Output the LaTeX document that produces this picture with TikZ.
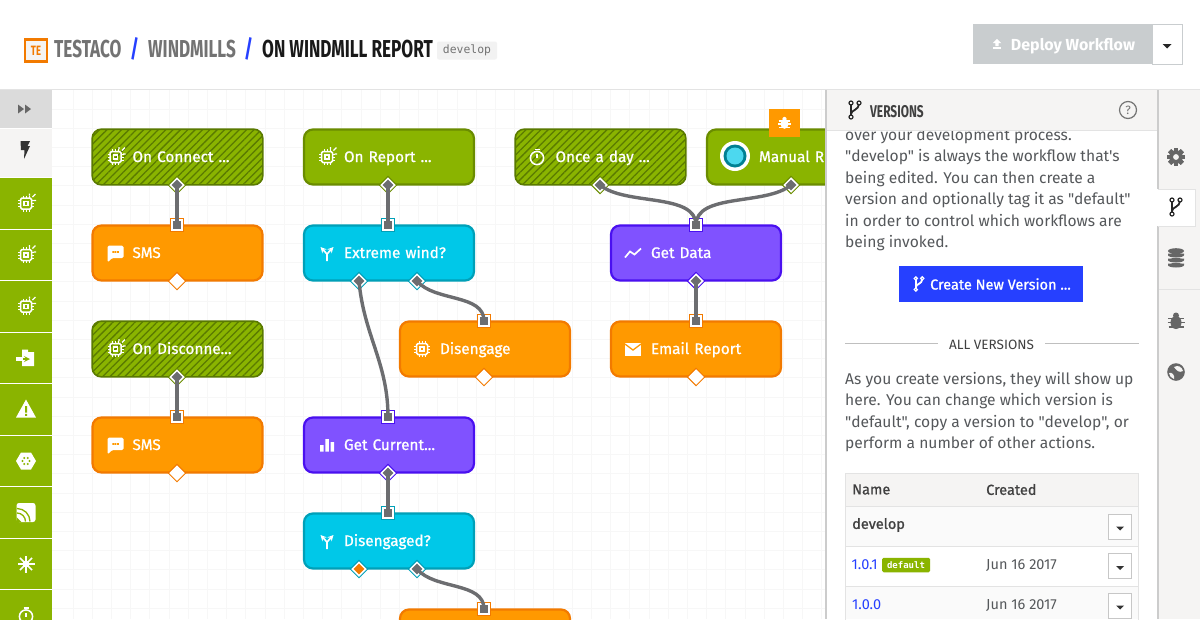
\documentclass[tikz,border=0pt]{standalone}
\usepackage{fontspec}
\usetikzlibrary{arrows,shapes,positioning,patterns.meta}
\setmainfont[Ligatures=TeXOff]{Fira Sans}
\newfontfamily\boxfont[FakeBold=0.9,Ligatures=TeXOff]{Fira Sans}
\newfontfamily\titlefont[FakeStretch=0.7]{Fira Sans}
\newfontfamily\codefont{DejaVu Sans Mono}
\definecolor{triggergreen}{HTML}{8AB400}
\definecolor{triggeredge}{HTML}{6A8C00}
\definecolor{hatchgreen}{HTML}{5A7A00}
\definecolor{actionorange}{HTML}{FF9900}
\definecolor{actionedge}{HTML}{F27A00}
\definecolor{logiccyan}{HTML}{00C8E8}
\definecolor{logicedge}{HTML}{00A0B8}
\definecolor{dataviolet}{HTML}{8052FF}
\definecolor{dataedge}{HTML}{4A10F0}
\definecolor{wiregray}{HTML}{6C6D70}
\definecolor{bodygray}{HTML}{55585B}
\definecolor{panelgray}{HTML}{F5F4F3}
\definecolor{rulegray}{HTML}{E3E3E3}
\definecolor{linkblue}{HTML}{2640FF}
\definecolor{deploygray}{HTML}{C9CDCF}
\tikzset{>=stealth,
  flowbox/.style={rectangle, rounded corners=9pt, line width=2.2pt, minimum width=170pt,
    minimum height=55pt, text width=160pt, inner xsep=5pt, inner ysep=0pt, align=left, text=white,
    text height=14pt, text depth=4pt,
    font=\boxfont\fontsize{15.3}{18}\selectfont, execute at begin node={\hspace*{35pt}}},
  triggerbox/.style={flowbox, draw=triggeredge, fill=triggergreen},
  hatchbox/.style={flowbox, draw=hatchgreen, line width=1.6pt, minimum width=170.6pt, minimum height=55.6pt,
    preaction={fill=triggergreen},
    pattern={Lines[angle=45,distance=5.2pt,line width=1.3pt]}, pattern color=hatchgreen},
  actionbox/.style={flowbox, draw=actionedge, fill=actionorange},
  logicbox/.style={flowbox, draw=logicedge, fill=logiccyan},
  databox/.style={flowbox, draw=dataedge, fill=dataviolet},
  inport/.style={rectangle, fill=#1, minimum size=14pt, inner sep=0pt,
    label={[rectangle, fill=wiregray, draw=white, line width=1.3pt, minimum size=10pt, inner sep=0pt]center:{}}},
  outport/.style args={#1 and #2}{diamond, fill=#1, minimum size=19pt, inner sep=0pt,
    label={[diamond, fill=#2, draw=white, line width=1.5pt, minimum size=14pt, inner sep=0pt]center:{}}},
  wire/.style={draw=wiregray, line width=3.4pt},
  gridline/.style={draw=black!3, line width=0.7pt},
  sidecell/.style={rectangle, fill=triggergreen, minimum width=52pt, minimum height=50.4pt, inner sep=0pt},
  bodytext/.style={align=left, anchor=north west, inner sep=0pt, text=bodygray,
    font=\fontsize{15.6}{21.5}\selectfont},
  tabletext/.style={anchor=west, inner sep=0pt, text=bodygray, font=\fontsize{14.5}{17}\selectfont},
  tablehead/.style={anchor=west, inner sep=0pt, text=black!75, font=\boxfont\fontsize{14.5}{17}\selectfont},
  menubox/.style={rectangle, draw=black!22, fill=white, line width=1pt, minimum width=23pt, minimum height=25pt, inner sep=0pt},
  crumb/.style={anchor=base west, inner sep=0pt, font=\titlefont\bfseries\fontsize{24.5}{26}\selectfont},
  % icons, drawn in the colour given to the pic
  chip/.pic={
    \draw[line width=1.5pt, rounded corners=1.5pt] (-5.5,-5.5) rectangle (5.5,5.5);
    \draw[line width=1.2pt] (-2,-2) rectangle (2,2);
    \foreach \p in {-3,0,3} {
      \draw[line width=1pt] (\p,-8) -- (\p,-5.5) (\p,5.5) -- (\p,8) (-8,\p) -- (-5.5,\p) (5.5,\p) -- (8,\p);}
  },
  chipspark/.pic={
    \pic {chip};
    \draw[line width=1.2pt] (6.5,-6.5) -- (9.5,-9.5) (7.5,-3) -- (10,-3) (3.5,-8) -- (3.5,-10);
  },
  speech/.pic={
    \fill[rounded corners=1.5pt] (-8,-7.5) -- (8,-7.5) -- (8,5) -- (-3.5,5) -- (-8,9.5) -- cycle;
    \fill[actionorange] (-3.2,-1.8) rectangle +(1.7,1.7) (-0.8,-1.8) rectangle +(1.7,1.7) (1.6,-1.8) rectangle +(1.7,1.7);
  },
  fork/.pic={
    \draw[line width=1.6pt, ->] (0,8) -- (0,1) -- (-6.5,-6);
    \draw[line width=1.6pt, ->] (0,1) -- (6.5,-6);
  },
  watch/.pic={
    \draw[line width=1.5pt] (0,1) circle (6.6pt);
    \draw[line width=1.5pt] (-2.5,-7.5) -- (2.5,-7.5) (0,1) -- (0,-3);
  },
  trend/.pic={
    \draw[line width=1.7pt] (-8,4.5) -- (-3,-1.5) -- (1.5,1.5) -- (8,-4.5);
  },
  mail/.pic={
    \fill (-8,-6) rectangle (8,6.5);
    \draw[actionorange, line width=1.3pt] (-8,-5) -- (0,1) -- (8,-5);
  },
  bars/.pic={
    \fill (-7,0) rectangle (-3.5,6.5) (-1.7,-6) rectangle (1.8,6.5) (3.5,-3) rectangle (7,6.5);
  },
  branch/.pic={
    \draw[line width=1.8pt] (-4,-6) -- (-4,6);
    \draw[line width=1.8pt] (-4,4) .. controls (-4,0) and (4,0) .. (4,-6);
    \draw[line width=1.2pt] (-4,-7) circle (2pt) (-4,7) circle (2pt) (4,-7) circle (2pt);
  },
  bug/.pic={
    \fill (0,1.5) ellipse (5.5pt and 6.5pt);
    \fill (0,-5.5) circle (3pt);
    \draw[line width=1.6pt] (-8,-2.5) -- (8,-2.5) (-8.5,1.5) -- (8.5,1.5) (-7.5,6) -- (7.5,6);
  },
  gear/.pic={
    \foreach \a in {0,45,...,315} {\fill[rotate=\a] (-2.2,-9) rectangle (2.2,9);}
    \fill (0,0) circle (6.8pt);
    \fill[panelgray] (0,0) circle (2.9pt);
  },
  stack/.pic={
    \fill (0,-7) ellipse (8pt and 2.8pt);
    \foreach \q in {-2,3,8} {\fill (-8,\q-2.5) rectangle (8,\q-0.8) (0,\q-0.8) ellipse (8pt and 2.3pt);}
  },
  globe/.pic={
    \fill (0,0) circle (8.8pt);
    \fill[panelgray] (-2,-5) .. controls (2,-7.5) and (6,-5) .. (7,-1) .. controls (3,1) and (1,-1) .. (-2,-5);
    \fill[panelgray] (-7,1) .. controls (-4,0) and (-1,3) .. (-2,7) .. controls (-5,6) and (-6.5,4) .. (-7,1);
  },
  bolt/.pic={
    \fill (-4.5,-9) -- (5,-9) -- (2.5,-4) -- (5,-4) -- (-1,9) -- (-0.5,0) -- (-4,0) -- cycle;
  },
  forward/.pic={
    \fill (-7,-4.5) -- (-1,0) -- (-7,4.5) -- cycle (0,-4.5) -- (6,0) -- (0,4.5) -- cycle;
  },
  upload/.pic={
    \fill (0,-6) -- (5,-1) -- (2,-1) -- (2,2.5) -- (-2,2.5) -- (-2,-1) -- (-5,-1) -- cycle;
    \fill (-5,4) rectangle (5,6);
  },
  enterbox/.pic={
    \fill (-4,-8.5) -- (2,-8.5) -- (2,-6) -- (8,-6) -- (8,8) -- (-4,8) -- cycle;
    \draw[triggergreen, line width=1.6pt, ->] (-3,1) -- (4,1);
    \fill (-10,-0.7) rectangle (-3.5,2.6);
  },
  hazard/.pic={
    \fill (0,-10) -- (10,8) -- (-10,8) -- cycle;
    \fill[triggergreen] (-1,-3.5) rectangle (1,3) (-1,4.3) rectangle (1,6.3);
  },
  hexagon/.pic={
    \fill (-10,0) -- (-5,-8.5) -- (5,-8.5) -- (10,0) -- (5,8.5) -- (-5,8.5) -- cycle;
    \foreach \a in {0,60,...,300} {\fill[triggergreen] (\a:3.5pt) circle (1.2pt);}
  },
  feed/.pic={
    \fill[rounded corners=2.5pt] (-9.5,-9.5) rectangle (9.5,9.5);
    \draw[triggergreen, line width=1.3pt] (-9,-4) arc (90:0:13pt) (-9,0.5) arc (90:0:8.5pt);
    \fill[triggergreen] (-9.5,4.5) -- (-4.5,9.5) -- (-9.5,9.5) -- cycle;
  },
  burst/.pic={
    \foreach \a in {0,45,...,315} {\draw[line width=1.5pt] (\a:2pt) -- (\a:8.5pt);}
    \fill (0,0) circle (3.5pt);
  }
}
\begin{document}
\begin{tikzpicture}[x=1pt,y=-1pt]
  \useasboundingbox (0,0) rectangle (1200,619);
  % canvas grid
  \foreach \gx in {0,...,39} \draw[gridline] (73+19.2*\gx,90) -- (73+19.2*\gx,619);
  \foreach \gy in {0,...,27} \draw[gridline] (52,109+19.2*\gy) -- (826,109+19.2*\gy);

  % palette on the left
  \fill[black!14] (0,90) rectangle (52,128);
  \fill[panelgray] (0,129) rectangle (52,177);
  \pic[black!60] at (25,109) {forward};
  \pic[black!80] at (25,150) {bolt};
  \foreach \cy/\cname in {203.5/cella,255/cellb,306.5/cellc,358/celld,409.5/celle,461/cellf,512.5/cellg,564/cellh,615.5/celli}
    \node[sidecell] (\cname) at (26,\cy) {};
  \pic[white] at (cella) {chipspark};
  \pic[white] at (cellb) {chipspark};
  \pic[white] at (cellc) {chipspark};
  \pic[white] at (celld) {enterbox};
  \pic[white] at (celle) {hazard};
  \pic[white] at (cellf) {hexagon};
  \pic[white] at (cellg) {feed};
  \pic[white] at (cellh) {burst};
  \pic[white] at (celli) {watch};

  % workflow blocks
  \node[hatchbox] (connect) at (177.5,157) {On Connect ...};
  \node[actionbox] (smsa) at (177.5,253) {SMS};
  \node[hatchbox] (disconnect) at (177.5,349) {On Disconne...};
  \node[actionbox] (smsb) at (177.5,445) {SMS};
  \node[triggerbox] (report) at (389,157) {On Report ...};
  \node[logicbox] (extreme) at (389,253) {Extreme wind?};
  \node[actionbox] (disengage) at (485,349) {Disengage};
  \node[databox] (current) at (389,445) {Get Current...};
  \node[logicbox] (engaged) at (389,541) {Disengaged?};
  \node[actionbox] (lastaction) at (485,637) {};
  \node[hatchbox] (daily) at (600.5,157) {Once a day ...};
  \node[triggerbox] (manual) at (792,157) {\hspace*{12pt}Manual R};
  \node[databox] (getdata) at (696,253) {Get Data};
  \node[actionbox] (email) at (696,349) {Email Report};

  \pic[white] at ([xshift=-62]connect.center) {chipspark};
  \pic[white] at ([xshift=-62]smsa.center) {speech};
  \pic[white] at ([xshift=-62]disconnect.center) {chipspark};
  \pic[white] at ([xshift=-62]smsb.center) {speech};
  \pic[white] at ([xshift=-62]report.center) {chipspark};
  \pic[white] at ([xshift=-62]extreme.center) {fork};
  \pic[white] at ([xshift=-63]disengage.center) {chip};
  \pic[white] at ([xshift=-62]current.center) {bars};
  \pic[white] at ([xshift=-62]engaged.center) {fork};
  \pic[white] at ([xshift=-63.5]daily.center) {watch};
  \pic[white] at ([xshift=-63]getdata.center) {trend};
  \pic[white] at ([xshift=-63]email.center) {mail};

  % ports
  \node[outport=triggeredge and wiregray] (connectout) at (177,185) {};
  \node[inport=actionedge] (smsain) at (177,225) {};
  \node[outport=actionedge and white] (smsaout) at (177,281) {};
  \node[outport=triggeredge and wiregray] (disconnectout) at (177,377) {};
  \node[inport=actionedge] (smsbin) at (177,417) {};
  \node[outport=actionedge and white] (smsbout) at (177,473) {};
  \node[outport=triggeredge and wiregray] (reportout) at (388,185) {};
  \node[inport=logicedge] (extremein) at (388,225) {};
  \node[outport=logicedge and wiregray] (extremeyes) at (359,281) {};
  \node[outport=logicedge and wiregray] (extremeno) at (417,281) {};
  \node[inport=actionedge] (disengagein) at (484,321) {};
  \node[outport=actionedge and white] (disengageout) at (484,377) {};
  \node[inport=dataedge] (currentin) at (388,417) {};
  \node[outport=dataedge and wiregray] (currentout) at (388,473) {};
  \node[inport=logicedge] (engagedin) at (388,513) {};
  \node[outport=logicedge and actionedge] (engagedyes) at (359,569) {};
  \node[outport=logicedge and wiregray] (engagedno) at (417,569) {};
  \node[inport=actionedge] (lastin) at (484,609) {};
  \node[outport=triggeredge and wiregray] (dailyout) at (600,185) {};
  \node[outport=triggeredge and wiregray] (manualout) at (791,185) {};
  \node[inport=dataedge] (getdatain) at (696,225) {};
  \node[outport=dataedge and wiregray] (getdataout) at (696,281) {};
  \node[inport=actionedge] (emailin) at (696,321) {};
  \node[outport=actionedge and white] (emailout) at (696,377) {};

  % connectors
  \draw[wire] (connectout.center) -- (smsain.center);
  \draw[wire] (disconnectout.center) -- (smsbin.center);
  \draw[wire] (reportout.center) -- (extremein.center);
  \draw[wire] (currentout.center) -- (engagedin.center);
  \draw[wire] (getdataout.center) -- (emailin.center);
  \draw[wire] (extremeyes.center) to [out=-85, in=90, looseness=1] (currentin.center);
  \draw[wire] (extremeno.center) to [out=-50, in=90, looseness=0.9] (disengagein.center);
  \draw[wire] (engagedno.center) to [out=-50, in=90, looseness=0.9] (lastin.center);
  \draw[wire] (dailyout.center) to [out=-40, in=90, looseness=0.8] (getdatain.center);
  \draw[wire] (manualout.center) to [out=-140, in=90, looseness=0.8] (getdatain.center);

  % manual trigger marks
  \fill[white] (735,156) circle (15pt);
  \fill[logicedge!80!black] (735,156) circle (11.5pt);
  \fill[logiccyan!70!white] (735,156) circle (8.5pt);
  \node[rectangle, fill=actionorange, minimum width=31pt, minimum height=28pt, inner sep=0pt] (bugflag) at (784.5,123) {};
  \pic[white, scale=0.72] at (bugflag) {bug};

  % versions panel
  \fill[white] (827,90) rectangle (1157,619);
  \fill[black!20] (825,90) rectangle (827,619);
  \fill[panelgray] (1158,90) rectangle (1200,619);
  \fill[black!20] (1157,90) rectangle (1158.5,619);
  \node[bodytext] (intro) at (845,128.5) {over your development process.\\
    "develop" is always the workflow that's\\
    being edited. You can then create a\\
    version and optionally tag it as "default"\\
    in order to control which workflows are\\
    being invoked.};
  \fill[panelgray] (827,90) rectangle (1157,130);
  \draw[rulegray, line width=1pt] (827,130.5) -- (1157,130.5);
  \pic[black!85] at (855,110) {branch};
  \node[anchor=west, inner sep=0pt, text=black!75, font=\titlefont\bfseries\fontsize{17}{18}\selectfont] (paneltitle) at (870,111.5) {VERSIONS};
  \node[circle, draw=black!55, line width=1.2pt, minimum size=17pt, inner sep=0pt, text=black!55, font=\fontsize{12}{12}\selectfont] (helpmark) at (1128,110) {?};
  \node[rectangle, fill=linkblue, minimum width=184pt, minimum height=36pt, inner sep=0pt, text=white, font=\boxfont\fontsize{14.5}{17}\selectfont] (createbtn) at (991,284) {\hspace*{19pt}Create New Version ...};
  \pic[white, scale=0.8] at (919,284) {branch};
  \node[inner sep=0pt, text=black!75, font=\fontsize{13.5}{15}\selectfont] (allversions) at (991.5,345) {ALL VERSIONS};
  \coordinate (rulea) at (845,343.5);
  \coordinate (ruleb) at (938,343.5);
  \coordinate (rulec) at (1045,343.5);
  \coordinate (ruled) at (1139,343.5);
  \draw[black!25, line width=1pt] (rulea) -- (ruleb) (rulec) -- (ruled);
  \node[bodytext] (howto) at (845,372) {As you create versions, they will show up\\
    here. You can change which version is\\
    "default", copy a version to "develop", or\\
    perform a number of other actions.};

  % versions table
  \fill[panelgray] (845,473) rectangle (1138.5,506);
  \fill[black!2] (845,507) rectangle (1138.5,546);
  \fill[black!2] (845,587) rectangle (1138.5,619);
  \draw[rulegray, line width=1pt] (845,473) rectangle (1138.5,640) (845,506.5) -- (1138.5,506.5) (845,546.5) -- (1138.5,546.5) (845,586.5) -- (1138.5,586.5);
  \node[tablehead] (namehead) at (852,489.5) {Name};
  \node[tablehead] (createdhead) at (986,489.5) {Created};
  \node[tablehead] (developrow) at (852,525) {develop};
  \node[tabletext, text=linkblue] (versiona) at (851.5,565) {1.0.1};
  \node[tabletext] (datea) at (986,565) {Jun 16 2017};
  \node[tabletext, text=linkblue] (versionb) at (852,605) {1.0.0};
  \node[tabletext] (dateb) at (986,605) {Jun 16 2017};
  \node[rectangle, rounded corners=1.5pt, fill=triggergreen, minimum width=48pt, minimum height=14.5pt, inner sep=0pt, text=white, font=\codefont\bfseries\fontsize{9}{10}\selectfont] (defaulttag) at (906,565) {default};
  \foreach \my/\mname in {526.5/menua,566/menub,605.5/menuc} {
    \node[menubox] (\mname) at (1120,\my) {};
    \fill[black!80] ([xshift=-4]\mname.center) -- ([xshift=4]\mname.center) -- ([yshift=-4]\mname.center) -- cycle;
  }

  % tabs on the right
  \fill[white] (1157,189) rectangle (1195,226);
  \draw[rulegray, line width=1pt] (1158,189) -- (1195,189) -- (1195,226) -- (1158,226);
  \draw[rulegray, line width=1pt] (1158.5,289) -- (1200,289);
  \pic[black!60] at (1176,157) {gear};
  \pic[black!85] at (1176,207) {branch};
  \pic[black!60] at (1176,258) {stack};
  \pic[black!60] at (1176,321) {bug};
  \pic[black!60] at (1176,372) {globe};

  % top bar
  \fill[white] (0,0) rectangle (1200,89);
  \draw[rulegray, line width=1.5pt] (0,89.5) -- (1200,89.5);
  \node[rectangle, draw=actionedge, fill=panelgray, line width=2.5pt, minimum size=22pt, inner sep=0pt, text=actionedge, font=\titlefont\bfseries\fontsize{13.5}{14}\selectfont] (logo) at (36,50.5) {TE};
  \node[crumb, text=black!55] (company) at (54,57.5) {TESTACO};
  \node[crumb, text=linkblue] (slasha) at (130,57.5) {/};
  \node[crumb, text=black!55] (project) at (148,57.5) {WINDMILLS};
  \node[crumb, text=linkblue] (slashb) at (244,57.5) {/};
  \node[crumb, text=black!90] (workflow) at (262,57.5) {ON WINDMILL REPORT};
  \node[rectangle, rounded corners=2pt, fill=black!5, minimum width=60pt, minimum height=18pt, inner sep=0pt, text=black!55, font=\codefont\fontsize{11.4}{12}\selectfont] (branchtag) at (467,50.5) {develop};
  \node[rectangle, fill=deploygray, minimum width=179pt, minimum height=40pt, inner sep=0pt, text=white, font=\bfseries\fontsize{16}{19}\selectfont, text depth=0pt] (deploybtn) at (1062.5,44) {\hspace*{21pt}Deploy Workflow};
  \pic[white, scale=0.85] at (997,44) {upload};
  \node[rectangle, draw=deploygray, fill=white, line width=1pt, minimum width=30pt, minimum height=40pt, inner sep=0pt] (deploymenu) at (1167,44) {};
  \fill[black!85] ([xshift=-4.5]deploymenu.center) -- ([xshift=4.5]deploymenu.center) -- ([yshift=-4.5]deploymenu.center) -- cycle;
\end{tikzpicture}
\end{document}
